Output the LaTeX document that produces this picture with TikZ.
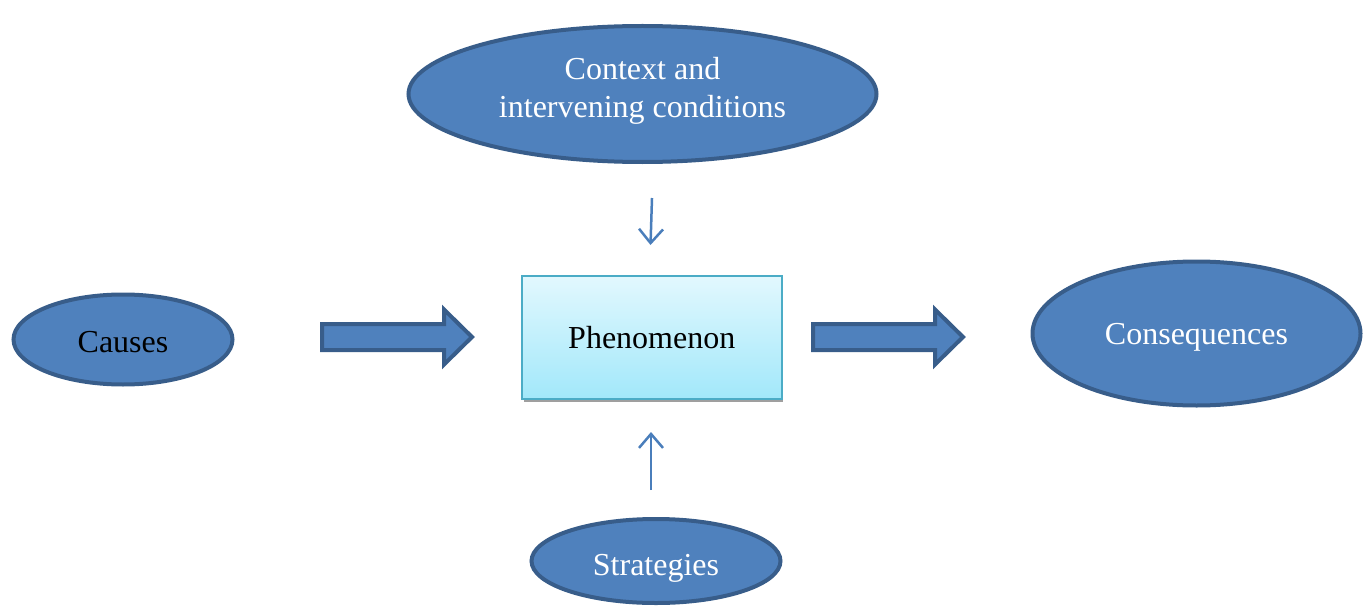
\documentclass[tikz,border=0pt]{standalone}
\usepackage{fontspec}
\setmainfont{Liberation Serif}
\usetikzlibrary{shapes.geometric,arrows.meta}
\definecolor{ovalfill}{HTML}{4F81BD}
\definecolor{ovalline}{HTML}{385D8A}
\definecolor{thinline}{HTML}{4A7EBB}
\definecolor{boxline}{HTML}{4BACC6}
\definecolor{boxtop}{HTML}{E2F8FE}
\definecolor{boxbottom}{HTML}{A2E8FA}
\tikzset{
  oval/.style={ellipse, draw=ovalline, fill=ovalfill, line width=4pt,
    inner sep=0pt, text=white, align=center,
    font=\fontsize{32}{38}\selectfont},
  ovaltext/.style={text=white, align=center, inner sep=0pt,
    font=\fontsize{32}{38}\selectfont},
  phenbox/.style={rectangle, draw=boxline, line width=1.5pt,
    top color=boxtop, bottom color=boxbottom, inner sep=0pt,
    font=\fontsize{32}{38}\selectfont},
  thinarrow/.style={draw=thinline, line width=2.5pt,
    -{Straight Barb[length=14pt,width=24pt,line width=2.5pt]}},
  fatarrow/.style={draw=ovalline, fill=ovalfill, line width=4pt,
    line join=miter},
}
\begin{document}
\begin{tikzpicture}[x=1pt,y=-1pt]
\useasboundingbox (0,0) rectangle (1367,607);

% ovals, with their labels placed separately
\node[oval, minimum width=468, minimum height=136] (ctx) at (642.5,94) {};
\node[ovaltext] (ctxlabel) at ([yshift=3pt]ctx.center) {Context and\\intervening conditions};
\node[oval, minimum width=219, minimum height=90] (causes) at (123,339.5) {};
\node[ovaltext, text=black] (causeslabel) at ([yshift=-3pt]causes.center) {Causes};
\node[oval, minimum width=328, minimum height=144] (cons) at (1196.5,333.5) {};
\node[ovaltext] (conslabel) at ([yshift=-4pt]cons.center) {Consequences};
\node[oval, minimum width=249, minimum height=84] (strat) at (656,561) {};
\node[ovaltext] (stratlabel) at ([yshift=-7pt]strat.center) {Strategies};

% central box with its shadow
\fill[gray!75] (524,279) rectangle (783,402);
\node[phenbox, minimum width=260, minimum height=123, anchor=north west] (phen) at (521,275) {};
\node[font=\fontsize{32}{38}\selectfont] (phenlabel) at (phen.center) {Phenomenon};

% block arrows
\draw[fatarrow] (322,324) -- (444,324) -- (444,309.5) -- (472,337) -- (444,364.5)
  -- (444,350) -- (322,350) -- cycle;
\draw[fatarrow] (813,324) -- (935,324) -- (935,309.5) -- (963,337) -- (935,364.5)
  -- (935,350) -- (813,350) -- cycle;

% thin arrows
\coordinate (dtop) at (652,198);
\coordinate (dbot) at (650.5,245);
\coordinate (ubot) at (651,490);
\coordinate (utop) at (651,432);
\draw[thinarrow] (dtop) -- (dbot);
\draw[thinarrow] (ubot) -- (utop);
\end{tikzpicture}
\end{document}
